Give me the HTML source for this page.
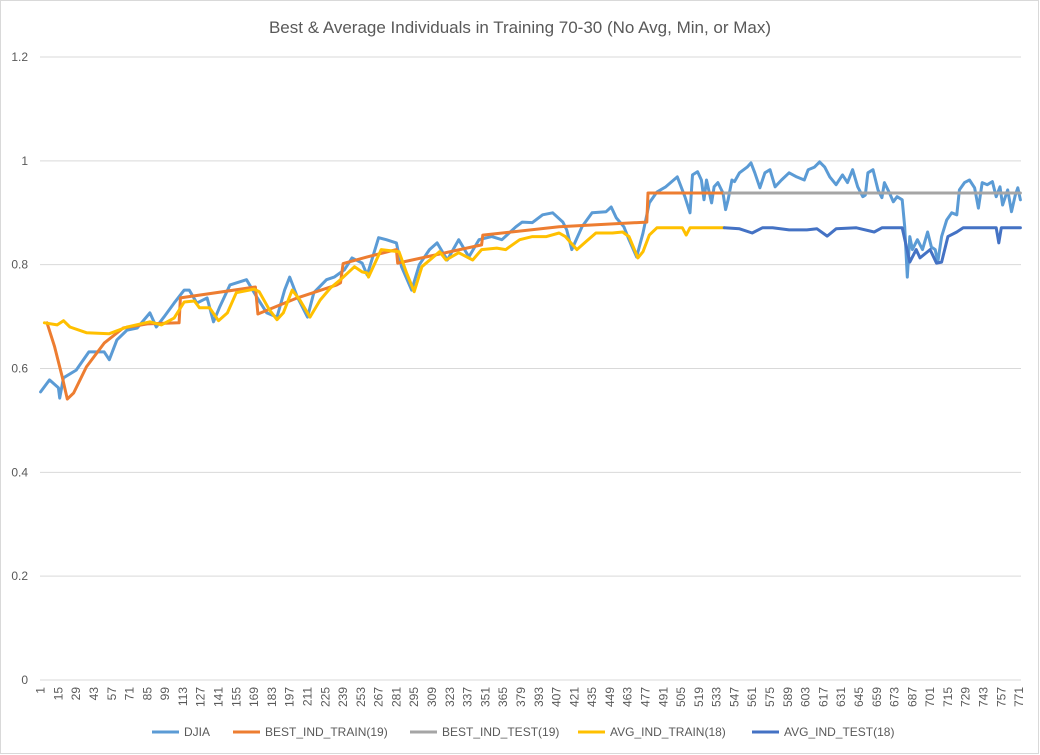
<!DOCTYPE html>
<html><head><meta charset="utf-8"><style>
html,body{margin:0;padding:0;background:#fff;}
svg{display:block;font-family:"Liberation Sans",sans-serif;}
</style></head><body>
<svg id="chart" width="1040" height="755" viewBox="0 0 1040 755">
<rect x="0.5" y="0.5" width="1038" height="753" fill="#fff" stroke="#d9d9d9"/>
<text x="520" y="33" text-anchor="middle" font-size="17" fill="#595959">Best &amp; Average Individuals in Training 70-30 (No Avg, Min, or Max)</text>
<g id="grid"></g><g id="yticks"></g><g id="xticks"></g><g id="series"></g>
<g id="legend"></g>
</svg>
<script>
const yTicks=[0,0.2,0.4,0.6,0.8,1,1.2];
const yTickLabels=["0","0.2","0.4","0.6","0.8","1","1.2"];
const nCats=772;
const djiaIdx=[1,8,15,16,19,29,39,51,55,61,69,77,87,92,98,106,114,118,124,132,137,142,150,163,171,179,187,193,197,203,211,216,226,232,240,246,254,258,267,273,281,285,293,299,307,313,321,330,338,346,356,364,375,380,388,396,404,412,415,419,427,435,446,450,454,460,464,470,475,480,486,493,502,508,
512,514,518,521,523,525,529,531,534,538,540,542,545,547,551,557,560,563,567,571,575,579,584,590,596,602,605,610,614,618,622,627,632,636,640,644,648,650,652,656,660,663,665,669,672,675,679,681,683,685,687,691,695,699,702,705,707,710,714,718,722,724,728,732,736,739,742,746,750,753,756,758,762,765,768,770,772];
const djiaVal=[0.555,0.578,0.563,0.543,0.582,0.597,0.632,0.632,0.617,0.655,0.674,0.678,0.707,0.680,0.699,0.726,0.751,0.751,0.726,0.736,0.690,0.719,0.761,0.771,0.738,0.707,0.699,0.751,0.776,0.738,0.699,0.746,0.771,0.776,0.790,0.813,0.803,0.780,0.852,0.848,0.842,0.796,0.751,0.800,0.829,0.842,0.809,0.848,0.815,0.848,0.854,0.848,0.873,0.882,0.881,0.896,0.900,0.882,0.867,0.829,0.873,0.900,0.902,0.911,0.890,0.873,0.848,0.815,0.861,0.919,0.940,0.950,0.969,0.931,
0.900,0.973,0.979,0.963,0.925,0.963,0.919,0.950,0.958,0.938,0.906,0.925,0.963,0.960,0.977,0.988,0.996,0.977,0.948,0.977,0.983,0.950,0.963,0.977,0.969,0.963,0.983,0.988,0.998,0.988,0.969,0.954,0.973,0.958,0.983,0.950,0.931,0.934,0.977,0.983,0.944,0.929,0.958,0.938,0.921,0.931,0.925,0.873,0.776,0.854,0.829,0.848,0.829,0.863,0.834,0.829,0.805,0.854,0.886,0.900,0.896,0.944,0.958,0.963,0.948,0.909,0.958,0.954,0.960,0.931,0.950,0.915,0.944,0.902,0.934,0.948,0.925];
const bestTrainIdx=[6,12,18,22,27,37,51,66,85,110,111,170,172,203,234,237,239,258,281,282,348,349,409,478,479,539];
const bestTrainVal=[0.688,0.642,0.584,0.541,0.553,0.603,0.649,0.678,0.686,0.688,0.736,0.757,0.705,0.736,0.761,0.765,0.802,0.815,0.829,0.803,0.838,0.857,0.873,0.882,0.938,0.938];
const bestTestIdx=[539,772];
const bestTestVal=[0.938,0.938];
const avgTrainIdx=[4,14,19,24,37,55,69,87,96,106,114,122,126,134,141,148,155,169,173,181,187,192,199,205,213,221,229,237,248,254,258,259,269,283,289,295,301,315,320,330,341,348,360,367,378,388,399,409,414,423,430,438,451,459,464,471,475,480,486,506,509,512,539];
const avgTrainVal=[0.688,0.684,0.692,0.680,0.669,0.667,0.680,0.690,0.684,0.697,0.728,0.730,0.717,0.717,0.692,0.707,0.746,0.753,0.748,0.713,0.694,0.707,0.751,0.732,0.699,0.732,0.755,0.771,0.796,0.786,0.784,0.776,0.829,0.825,0.784,0.748,0.796,0.825,0.809,0.823,0.809,0.829,0.832,0.829,0.848,0.854,0.854,0.861,0.854,0.829,0.844,0.861,0.861,0.863,0.854,0.813,0.825,0.857,0.871,0.871,0.857,0.871,0.871];
const avgTestIdx=[539,551,561,569,577,590,604,612,620,627,643,657,663,679,685,690,693,701,706,710,715,722,727,753,755,757,772];
const avgTestVal=[0.871,0.869,0.861,0.871,0.871,0.867,0.867,0.869,0.855,0.869,0.871,0.863,0.871,0.871,0.805,0.829,0.813,0.829,0.803,0.805,0.854,0.863,0.871,0.871,0.842,0.871,0.871];

const NS="http://www.w3.org/2000/svg";
const L=40,R=1021,T=57,B=680,yMax=1.2;
const xs=i=>L+(i-0.5)*(R-L)/nCats;
const ys=v=>B-v/yMax*(B-T);
function mk(tag,attrs,parent){const e=document.createElementNS(NS,tag);for(const k in attrs)e.setAttribute(k,attrs[k]);parent.appendChild(e);return e;}
const grid=document.getElementById('grid'),yt=document.getElementById('yticks'),xt=document.getElementById('xticks'),ser=document.getElementById('series'),leg=document.getElementById('legend');
yTicks.forEach((v,k)=>{
  const ln=mk('line',{x1:L,x2:R,y1:ys(v),y2:ys(v),stroke:'#d9d9d9','stroke-width':1},grid);
  
  
  const t=mk('text',{x:28,y:ys(v)+4,'text-anchor':'end','font-size':12,fill:'#595959'},yt);
  t.textContent=yTickLabels[k];
  
  
});
for(let i=1;i<=nCats;i+=14){
  const x=xs(i);
  const t=mk('text',{transform:`translate(${x+4},687) rotate(-90)`,'text-anchor':'end','font-size':12,fill:'#595959'},xt);
  t.textContent=String(i);
  
  
}
const seriesDefs=[
 ['DJIA',djiaIdx,djiaVal,'#5B9BD5','series-djia'],
 ['BEST_IND_TRAIN(19)',bestTrainIdx,bestTrainVal,'#ED7D31','series-best-ind-train'],
 ['BEST_IND_TEST(19)',bestTestIdx,bestTestVal,'#A5A5A5','series-best-ind-test'],
 ['AVG_IND_TRAIN(18)',avgTrainIdx,avgTrainVal,'#FFC000','series-avg-ind-train'],
 ['AVG_IND_TEST(18)',avgTestIdx,avgTestVal,'#4472C4','series-avg-ind-test']
];
seriesDefs.forEach(([name,ix,vs,col,dn])=>{
  const d=ix.map((i,k)=>(k?'L':'M')+xs(i).toFixed(1)+' '+ys(vs[k]).toFixed(1)).join(' ');
  const p=mk('path',{d:d,fill:'none',stroke:col,'stroke-width':3,'stroke-linejoin':'round','stroke-linecap':'round'},ser);
  
  
});
const legX=[152,233,410,578,752];
seriesDefs.forEach(([name,ix,vs,col,dn],k)=>{
  const g=mk('g',{},leg);
  
  
  mk('line',{x1:legX[k],x2:legX[k]+27,y1:732,y2:732,stroke:col,'stroke-width':3},g);
  const t=mk('text',{x:legX[k]+32,y:736,'font-size':12,fill:'#595959'},g);
  t.textContent=name;
});
</script>
</body></html>
